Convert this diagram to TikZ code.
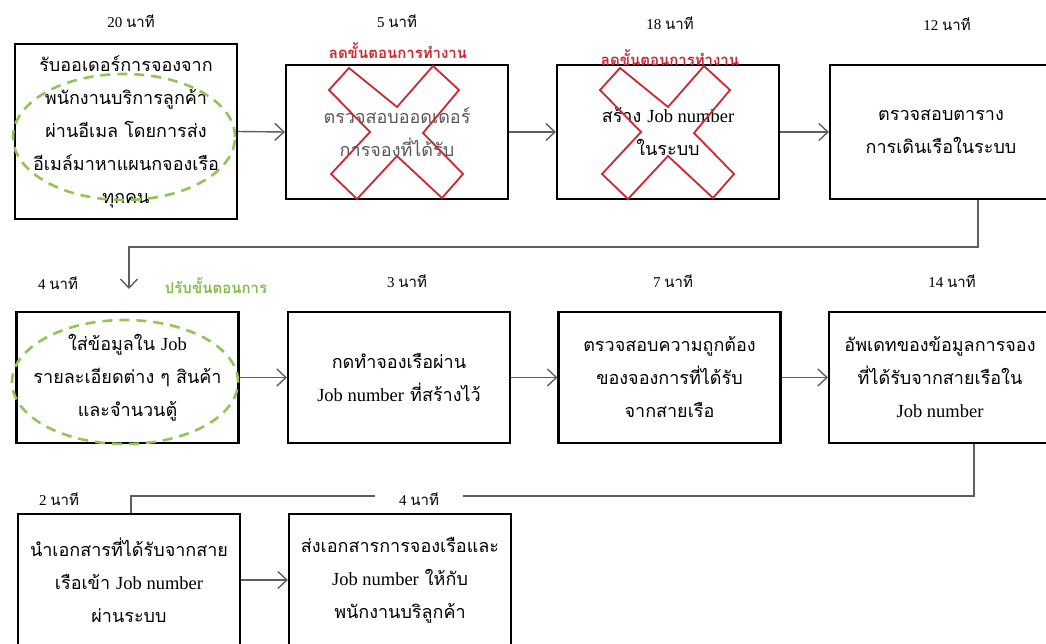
\documentclass[tikz,border=0pt]{standalone}
\usepackage{fontspec}
\setmainfont{Liberation Serif}
\newfontfamily\thf[Script=Thai]{Loma}
\usetikzlibrary{arrows.meta}
\definecolor{xred}{RGB}{205,40,50}
\definecolor{lgreen}{RGB}{146,196,90}
\definecolor{dgreen}{RGB}{130,190,70}
\definecolor{conngray}{RGB}{95,95,95}
\tikzset{
  x=1pt, y=-1pt,
  stepbox/.style={draw=black, line width=2.2pt, minimum width=222pt, align=center,
     font=\fontsize{18}{33}\selectfont\thf, inner sep=0pt},
  rowone/.style={stepbox, minimum height=134pt},
  rowtwo/.style={stepbox, minimum height=131pt},
  rowthree/.style={stepbox, minimum height=132pt},
  timelbl/.style={font=\fontsize{15}{18}\selectfont, inner sep=1pt},
  conn/.style={draw=conngray, line width=1.4pt},
  arr/.style={conn, -{Straight Barb[length=9pt,width=17pt,line width=1.4pt]}},
  redx/.style={draw=xred, line width=1.8pt, line join=miter},
  redlbl/.style={font=\fontsize{15}{18}\selectfont\thf\bfseries, text=xred, inner sep=0pt},
  greenlbl/.style={font=\fontsize{15}{18}\selectfont\thf\bfseries, text=dgreen, inner sep=0pt},
  greenell/.style={draw=lgreen, line width=2.6pt, dash pattern=on 10pt off 7pt},
}
\newcommand{\lat}[1]{{\fontspec{Liberation Serif}\fontsize{18.5}{33}\selectfont #1}}
\begin{document}
\begin{tikzpicture}
\useasboundingbox (0,0) rectangle (1046,644);
\fill[white] (0,0) rectangle (1046,644);

% Row 1
\node[stepbox, minimum height=175pt] (b1) at (126,131.5) {รับออเดอร์การจองจาก\\พนักงานบริการลูกค้า\\ผ่านอีเมล โดยการส่ง\\อีเมล์มาหาแผนกจองเรือ\\ทุกคน};
\node[rowone, text=black!65] (b2) at (397,132) {ตรวจสอบออดเดอร์\\การจองที่ได้รับ};
\node[rowone] (b3) at (668,132) {สร้าง \lat{Job number}\\ในระบบ};
\node[rowone] (b4) at (941,132) {ตรวจสอบตาราง\\การเดินเรือในระบบ};

\node[timelbl] (t1) at (131,21) {20 {\thf นาที}};
\node[timelbl] (t2) at (397,21) {5 {\thf นาที}};
\node[timelbl] (t3) at (670,23) {18 {\thf นาที}};
\node[timelbl] (t4) at (947,24) {12 {\thf นาที}};

% Row 2
\node[rowtwo] (b5) at (127.5,377.5) {ใส่ข้อมูลใน \lat{Job}\\รายละเอียดต่าง ๆ สินค้า\\และจำนวนตู้};
\node[rowtwo] (b6) at (399,377.5) {กดทำจองเรือผ่าน\\\lat{Job number} ที่สร้างไว้};
\node[rowtwo] (b7) at (669.5,377.5) {ตรวจสอบความถูกต้อง\\ของจองการที่ได้รับ\\จากสายเรือ};
\node[rowtwo] (b8) at (940,377.5) {อัพเดทของข้อมูลการจอง\\ที่ได้รับจากสายเรือใน\\\lat{Job number}};

\node[timelbl] (t5) at (58,283) {4 {\thf นาที}};
\node[timelbl] (t6) at (407,281) {3 {\thf นาที}};
\node[timelbl] (t7) at (673,281) {7 {\thf นาที}};
\node[timelbl] (t8) at (952,281) {14 {\thf นาที}};

% Row 3
\node[rowthree] (b9) at (129,580) {นำเอกสารที่ได้รับจากสาย\\เรือเข้า \lat{Job number}\\ผ่านระบบ};
\node[rowthree] (b10) at (400,580) {ส่งเอกสารการจองเรือและ\\\lat{Job number} ให้กับ\\พนักงานบริลูกค้า};

\node[timelbl] (t9) at (59,499) {2 {\thf นาที}};

% Arrows row 1
\draw[arr] (b1.east) -- (b2.west);
\draw[arr] (b2.east) -- (b3.west);
\draw[arr] (b3.east) -- (b4.west);
% Arrows row 2
\draw[arr] (b5.east) -- (b6.west);
\draw[arr] (b6.east) -- (b7.west);
\draw[arr] (b7.east) -- (b8.west);
% Arrow row 3
\draw[arr] (b9.east) -- (b10.west);

% Connector row1 -> row2
\coordinate (k1) at (978,247);
\coordinate (a5) at (129,289);
\draw[arr] (b4.south -| k1) -- (k1) -| (a5);

% Connector row2 -> row3
\coordinate (k2) at (974,496);
\coordinate (k3) at (131,496);
\draw[conn] (b8.south -| k2) -- (k2) -- (k3) -- (b9.north -| k3);
\node[timelbl, fill=white, inner xsep=24pt] (t10) at (419,499) {4 {\thf นาที}};

% Red crosses
\foreach \b in {b2,b3}{
  \draw[redx, shift={(\b.center)}] (-68,-42) -- (-48,-64) -- (0,-25) -- (36,-66) -- (62,-42) -- (26,1)
     -- (66,42) -- (45,66) -- (0,24) -- (-40,67) -- (-66,42) -- (-27,0) -- cycle;
}
\node[redlbl] (r1) at (398,51) {ลดขั้นตอนการทำงาน};
\node[redlbl] (r2) at (670,58) {ลดขั้นตอนการทำงาน};

% Green ellipses
\draw[greenell] (124,137) ellipse [x radius=111pt, y radius=63pt];
\draw[greenell] (125,382) ellipse [x radius=113pt, y radius=62pt];
\node[greenlbl] (g1) at (216,286) {ปรับขั้นตอนการ};
\end{tikzpicture}
\end{document}
